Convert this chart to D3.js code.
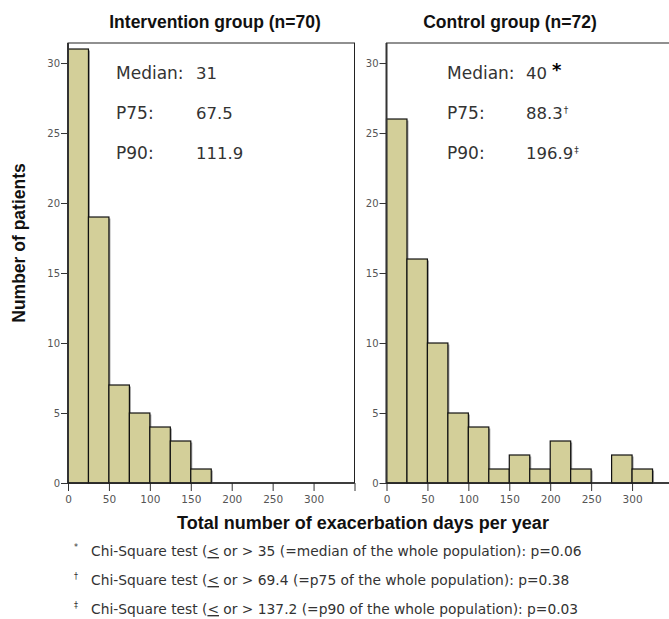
<!DOCTYPE html>
<html>
<head>
<meta charset="utf-8">
<script src="https://cdn.jsdelivr.net/npm/d3@7"></script>
<style>
  html, body { margin: 0; padding: 0; background: #fff; }
  svg { display: block; }
</style>
</head>
<body>
<svg id="chart" width="669" height="619"></svg>
<script>
// ---- data ----
const binWidth = 25;
const interventionBins = [0, 25, 50, 75, 100, 125, 150];
const interventionCounts = [31, 19, 7, 5, 4, 3, 1];
const controlBins = [0, 25, 50, 75, 100, 125, 150, 175, 200, 225, 250, 275, 300];
const controlCounts = [26, 16, 10, 5, 4, 1, 2, 1, 3, 1, 0, 2, 1];
const yTicks = [0, 5, 10, 15, 20, 25, 30];
const xTicks = [0, 50, 100, 150, 200, 250, 300];
const xTicksUnlabelled = [350];
const panelTitles = ["Intervention group (n=70)", "Control group (n=72)"];
const statLabels = ["Median:", "P75:", "P90:"];
const interventionStats = ["31", "67.5", "111.9"];
const controlStats = ["40", "88.3", "196.9"];
const controlMarks = ["*", "\u2020", "\u2021"];
const footnoteSymbols = ["*", "\u2020", "\u2021"];
const footnotePre = ["Chi-Square test (", "Chi-Square test (", "Chi-Square test ("];
const footnotePost = [
  " or > 35 (=median of the whole population): p=0.06",
  " or > 69.4 (=p75 of the whole population): p=0.38",
  " or > 137.2 (=p90 of the whole population): p=0.03"
];
const yTitle = "Number of patients";
const xTitle = "Total number of exacerbation days per year";

// ---- layout ----
const svg = d3.select("#chart");
svg.append("rect").attr("width", 669).attr("height", 619).attr("fill", "#fff");

const plotTop = 43, plotBottom = 483;
const y = d3.scaleLinear().domain([0, 31.43]).range([plotBottom, plotTop]);
const barFill = "#d3cf99";
const textGray = "#333";
const tickGray = "#555";

const panels = [
  { x0: 68, x1: 354.5, bins: interventionBins, counts: interventionCounts, stats: interventionStats,
    marks: null, title: panelTitles[0], titleX: 215, labX: 116, valX: 196 },
  { x0: 386.5, x1: 673, bins: controlBins, counts: controlCounts, stats: controlStats,
    marks: controlMarks, title: panelTitles[1], titleX: 510, labX: 447, valX: 526 }
];

const statY = [78.5, 119, 159];

panels.forEach(p => {
  const x = d3.scaleLinear().domain([0, 350]).range([p.x0, p.x1]);
  const g = svg.append("g");

  g.append("rect").attr("x", p.x0).attr("y", plotTop).attr("width", p.x1 - p.x0).attr("height", plotBottom - plotTop)
    .attr("fill", "none").attr("stroke", "#222").attr("stroke-width", 1);

  const data = p.bins.map((b, i) => ({ b, c: p.counts[i] }));

  g.selectAll("rect.shadow").data(data.filter(d => d.c > 0)).enter().append("rect")
    .attr("class", "shadow")
    .attr("x", d => x(d.b) + 1.5)
    .attr("y", d => y(d.c) + 1.5)
    .attr("width", d => x(d.b + binWidth) - x(d.b))
    .attr("height", d => y(0) - y(d.c) - 1.5)
    .attr("fill", "#a0a0a0");

  g.selectAll("rect.bar").data(data).enter().append("rect")
    .attr("class", "bar")
    .attr("x", d => x(d.b))
    .attr("y", d => y(d.c))
    .attr("width", d => x(d.b + binWidth) - x(d.b))
    .attr("height", d => y(0) - y(d.c))
    .attr("fill", barFill)
    .attr("stroke", "#111")
    .attr("stroke-width", 1.2);

  const yAxis = d3.axisLeft(y).tickValues(yTicks).tickSize(7).tickPadding(1).tickFormat(d3.format("d"));
  const ya = g.append("g").attr("transform", `translate(${p.x0},0)`).call(yAxis);
  ya.select(".domain").remove();
  ya.selectAll(".tick line").attr("stroke", "#333");
  ya.selectAll(".tick text").attr("fill", tickGray).attr("font-family", "DejaVu Sans, sans-serif").attr("font-size", 10);
  g.append("line").attr("x1", p.x0).attr("x2", p.x0).attr("y1", plotTop).attr("y2", plotBottom)
    .attr("stroke", "#333").attr("stroke-width", 2);

  const xAxis = d3.axisBottom(x).tickValues(xTicks.concat(xTicksUnlabelled)).tickSize(8).tickPadding(5)
    .tickFormat(d => xTicks.includes(d) ? d3.format("d")(d) : "");
  const xa = g.append("g").attr("transform", `translate(0,${plotBottom})`).call(xAxis);
  xa.select(".domain").remove();
  xa.selectAll(".tick line").attr("stroke", "#333");
  xa.selectAll(".tick text").attr("fill", tickGray).attr("font-family", "DejaVu Sans, sans-serif").attr("font-size", 10.5);
  g.append("line").attr("x1", p.x0).attr("x2", p.x1).attr("y1", plotBottom).attr("y2", plotBottom)
    .attr("stroke", "#222").attr("stroke-width", 1.5);

  svg.append("text").attr("x", p.titleX).attr("y", 28).attr("text-anchor", "middle")
    .attr("font-family", "Liberation Sans, Arial, sans-serif").attr("font-weight", "bold").attr("font-size", 17.5)
    .attr("fill", "#111").text(p.title);

  statLabels.forEach((lab, i) => {
    svg.append("text").attr("x", p.labX).attr("y", statY[i])
      .attr("font-family", "DejaVu Sans, sans-serif").attr("font-size", 17).attr("fill", textGray).text(lab);
    const t = svg.append("text").attr("x", p.valX).attr("y", statY[i])
      .attr("font-family", "DejaVu Sans, sans-serif").attr("font-size", 16.5).attr("fill", textGray);
    t.append("tspan").text(p.stats[i]);
    if (p.marks) {
      if (i === 0) {
        t.append("tspan").attr("dx", 5).attr("dy", -3).attr("font-size", 18).attr("font-weight", "bold")
          .attr("fill", "#000").text(p.marks[i]);
      } else {
        t.append("tspan").attr("dx", 1).attr("dy", -6).attr("font-size", 9).text(p.marks[i]);
      }
    }
  });
});

svg.append("text").attr("transform", "translate(25,243) rotate(-90)").attr("text-anchor", "middle")
  .attr("font-family", "Liberation Sans, Arial, sans-serif").attr("font-weight", "bold").attr("font-size", 17.5)
  .attr("fill", "#111").text(yTitle);
svg.append("text").attr("x", 363).attr("y", 529).attr("text-anchor", "middle")
  .attr("font-family", "Liberation Sans, Arial, sans-serif").attr("font-weight", "bold").attr("font-size", 18)
  .attr("fill", "#111").text(xTitle);

const fnY = [556, 585, 614];
footnotePre.forEach((pre, i) => {
  svg.append("text").attr("x", 74).attr("y", fnY[i] - 6)
    .attr("font-family", "DejaVu Sans, sans-serif").attr("font-size", 8).attr("fill", textGray).text(footnoteSymbols[i]);
  const t = svg.append("text").attr("x", 91).attr("y", fnY[i])
    .attr("font-family", "DejaVu Sans, sans-serif").attr("font-size", 13.8).attr("fill", textGray);
  t.append("tspan").text(pre);
  t.append("tspan").attr("text-decoration", "underline").text("<");
  t.append("tspan").text(footnotePost[i]);
});
</script>
</body>
</html>
